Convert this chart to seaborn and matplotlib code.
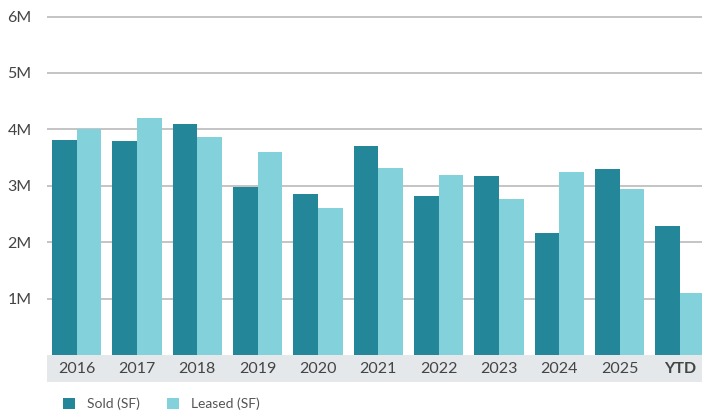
import matplotlib
matplotlib.use("Agg")
import matplotlib.pyplot as plt
import seaborn as sns
import pandas as pd
from matplotlib.patches import Patch, Rectangle
from matplotlib.ticker import FixedLocator

categories = ["2016", "2017", "2018", "2019", "2020", "2021", "2022", "2023", "2024", "2025", "YTD"]
sold = [3.81, 3.79, 4.10, 2.98, 2.85, 3.71, 2.82, 3.17, 2.16, 3.30, 2.29]
leased = [4.00, 4.20, 3.87, 3.60, 2.61, 3.32, 3.19, 2.77, 3.24, 2.94, 1.10]
series = ["Sold (SF)", "Leased (SF)"]
ytick_vals = [1, 2, 3, 4, 5, 6]
ytick_labels = ["1M", "2M", "3M", "4M", "5M", "6M"]

colors = ["#248799", "#83d1db"]

df = pd.DataFrame({
    "cat": categories * 2,
    "val": [v * 1e6 for v in sold] + [v * 1e6 for v in leased],
    "series": [series[0]] * len(categories) + [series[1]] * len(categories),
})

sns.set_theme(style="white")
plt.rcParams["font.family"] = ["Lato", "DejaVu Sans"]

fig = plt.figure(figsize=(7.02, 4.15), dpi=100)
ax = fig.add_axes([47 / 702, 60 / 415, 1 - 47 / 702, (355 - 14.3) / 415])

sns.barplot(data=df, x="cat", y="val", hue="series", palette=colors,
            width=0.82, saturation=1, ax=ax, legend=False, linewidth=0)

ax.set_xlim(-0.49, 10.365)
ax.set_ylim(0, 6.04e6)
ax.yaxis.set_major_locator(FixedLocator([v * 1e6 for v in ytick_vals]))
ax.set_yticklabels(ytick_labels)
ax.set_xlabel("")
ax.set_ylabel("")
ax.grid(axis="y", color="#c4c4c4", linewidth=1.4)
ax.set_axisbelow(True)
for s in ax.spines.values():
    s.set_visible(False)

ax.tick_params(axis="y", length=0, pad=11, labelsize=11.5, labelcolor="#444444")
ax.tick_params(axis="x", length=0, pad=5, labelsize=11.5, labelcolor="#444444")
for lbl in ax.get_xticklabels():
    if lbl.get_text() == "YTD":
        lbl.set_fontweight("bold")

band_h = 27 / ((355 - 14.3))
ax.add_patch(Rectangle((0, -band_h), 1, band_h, transform=ax.transAxes,
                       facecolor="#e4e8eb", edgecolor="none", clip_on=False, zorder=0))

handles = [Patch(facecolor=c, edgecolor="none") for c in colors]
fig.legend(handles, series, loc="center left", bbox_to_anchor=(50 / 702, 1 - 404 / 415),
           ncol=2, frameon=False, fontsize=10, labelcolor="#555555",
           handlelength=0.9, handleheight=0.9, handletextpad=0.85, columnspacing=1.95)

fig.savefig("out.png", dpi=100)
